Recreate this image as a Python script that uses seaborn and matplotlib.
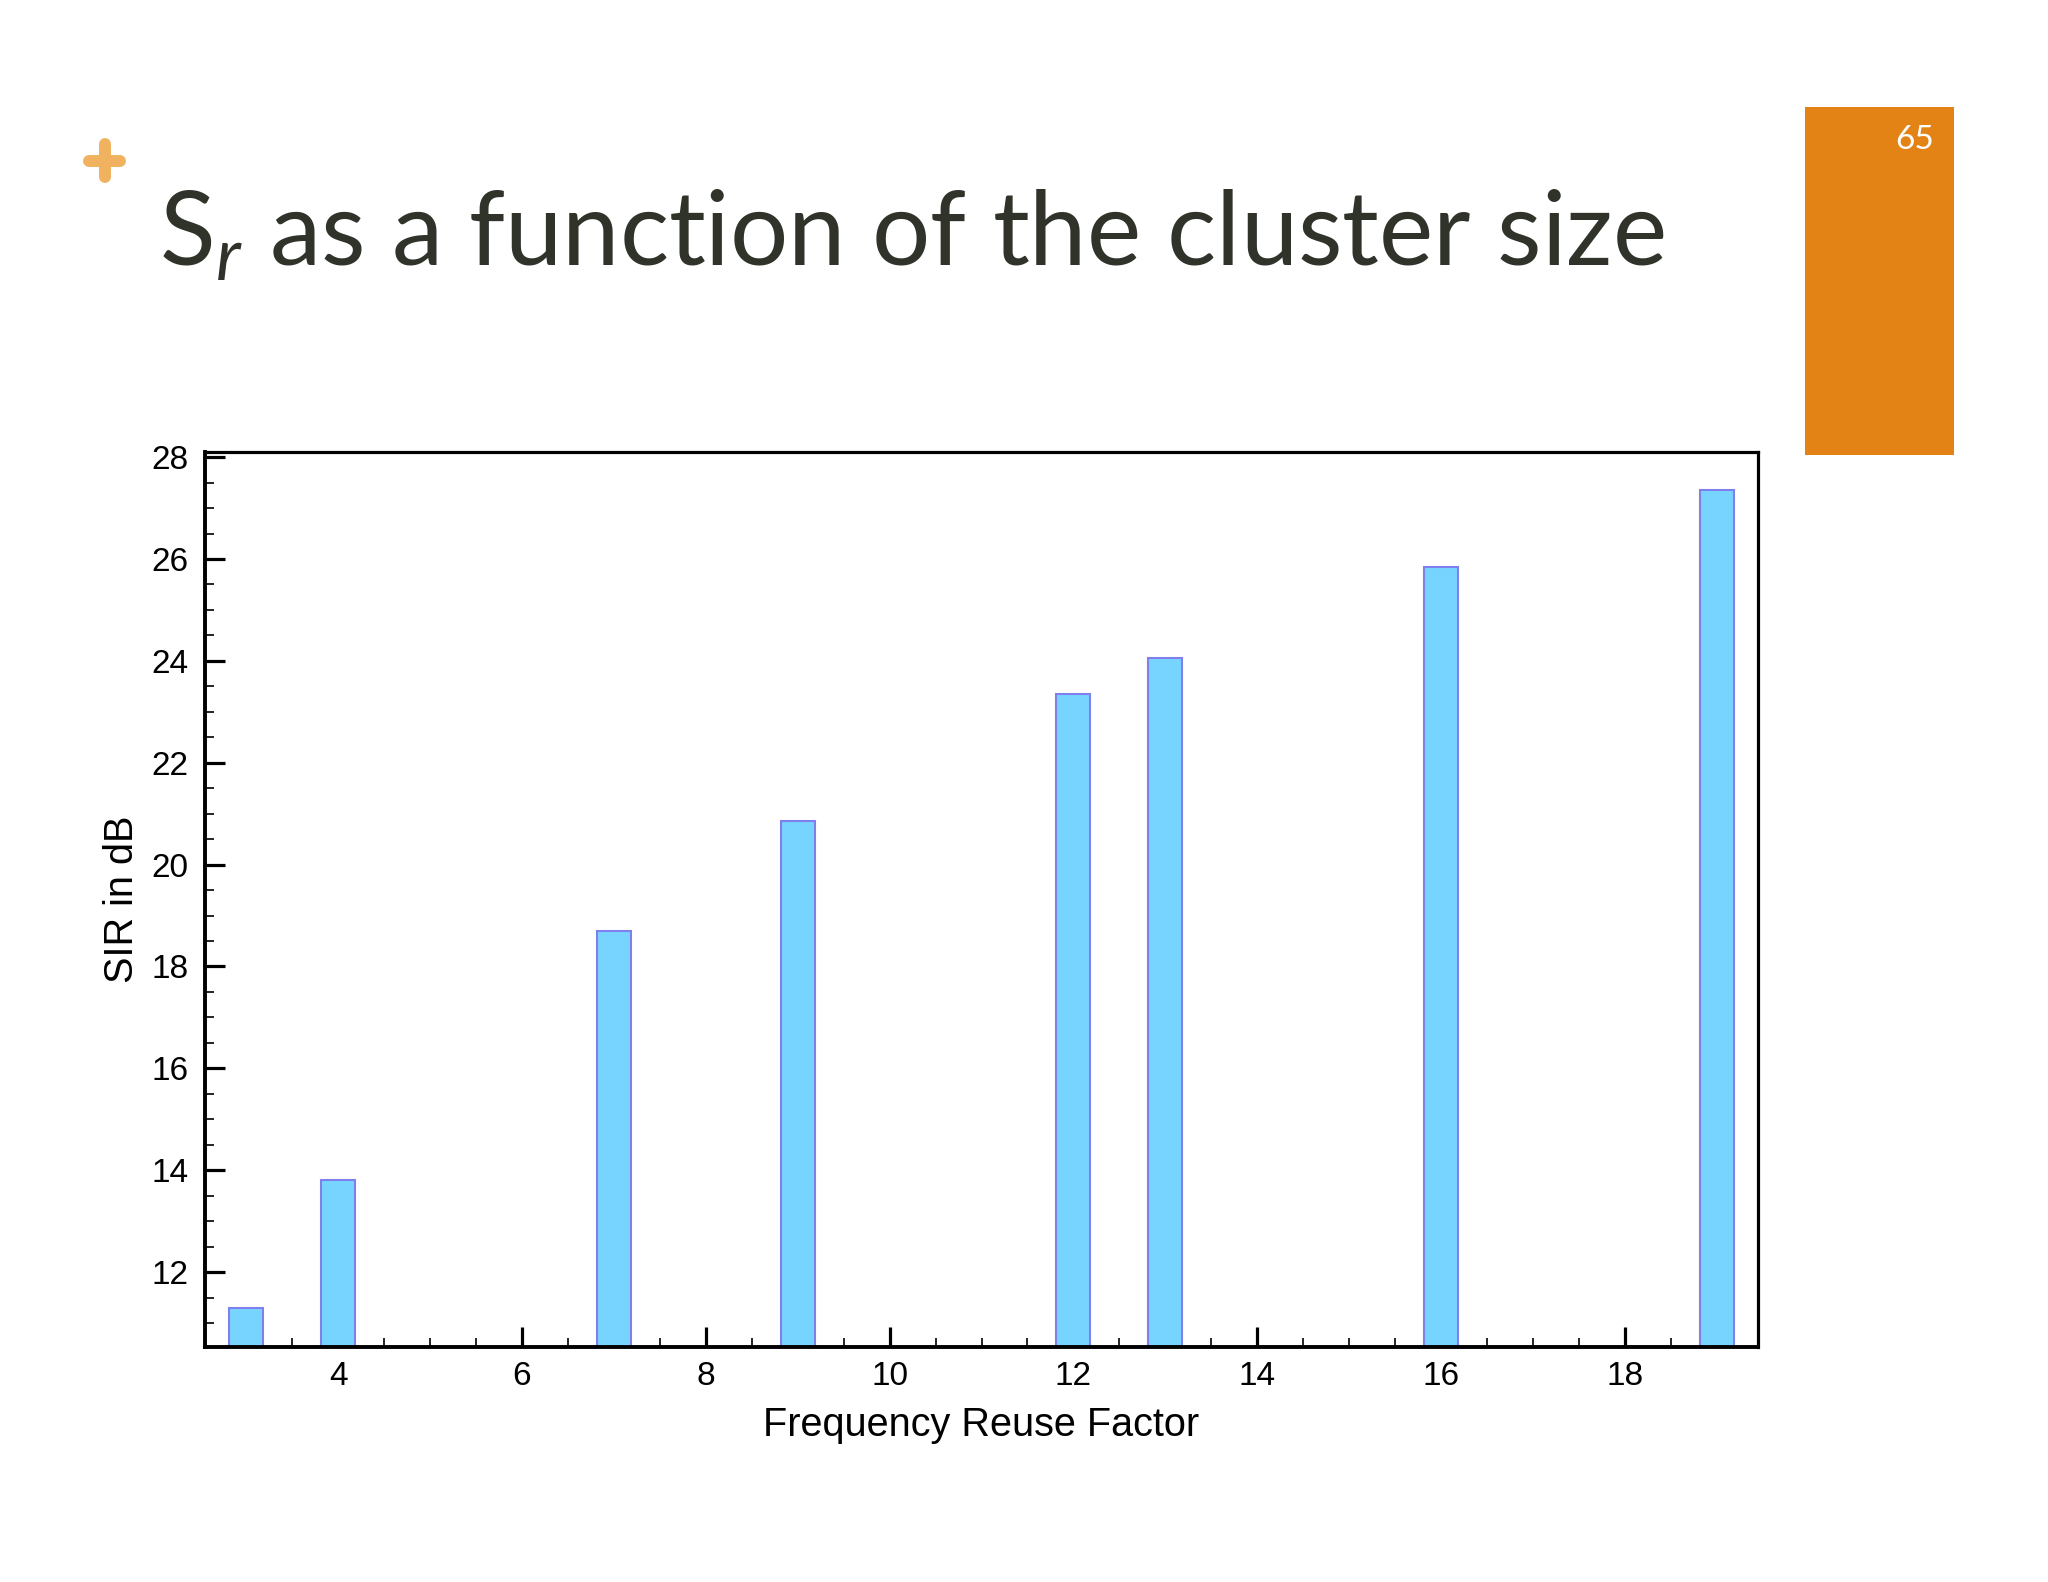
import numpy as np
import pandas as pd
import matplotlib
matplotlib.use('Agg')
import matplotlib.pyplot as plt
import seaborn as sns
from matplotlib.lines import Line2D
from matplotlib.patches import Rectangle
from matplotlib.ticker import MultipleLocator

# cluster size N and the signal-to-interference ratio
cluster_size = [3, 4, 7, 9, 12, 13, 16, 19]
sir_db = [11.3, 13.8, 18.7, 20.85, 23.35, 24.05, 25.85, 27.35]
x_ticks = [4, 6, 8, 10, 12, 14, 16, 18]
y_ticks = [12, 14, 16, 18, 20, 22, 24, 26, 28]

dados = pd.DataFrame({'N': cluster_size, 'SIR': sir_db})

sns.set_style('white')
plt.rcParams['font.family'] = ['Liberation Sans', 'DejaVu Sans']
plt.rcParams['mathtext.fontset'] = 'custom'
plt.rcParams['mathtext.rm'] = 'Lato'
plt.rcParams['mathtext.it'] = 'Lato:italic'

W, H = 2048, 1582
fig = plt.figure(figsize=(W / 100, H / 100), dpi=100)
fig.patch.set_facecolor('white')

ax = fig.add_axes([205 / W, 1 - 1347 / H, (1758 - 205) / W, (1347 - 452) / H])
sns.barplot(data=dados, x='N', y='SIR', native_scale=True, width=0.37,
            color='#77D4FE', saturation=1, edgecolor='#7F80EE', linewidth=1.5, ax=ax)
ax.set_axisbelow(True)

ax.set_xlim(2.55, 19.45)
ax.set_ylim(10.53, 28.1)
ax.set_xticks(x_ticks)
ax.set_yticks(y_ticks)
ax.xaxis.set_minor_locator(MultipleLocator(0.5))
ax.yaxis.set_minor_locator(MultipleLocator(0.5))
ax.tick_params(which='major', direction='in', length=14.5, width=2.3, labelsize=24,
               pad=10, color='black', labelcolor='black',
               bottom=True, left=True, top=False, right=False)
ax.tick_params(which='minor', direction='in', length=6.8, width=1.2, color='black',
               bottom=True, left=True, top=False, right=False)
ax.tick_params(axis='y', which='major', pad=12)

for side in ['left', 'bottom']:
    ax.spines[side].set_linewidth(2.8)
    ax.spines[side].set_color('black')
for side in ['top', 'right']:
    ax.spines[side].set_linewidth(2.3)
    ax.spines[side].set_color('black')

ax.set_xlabel('Frequency Reuse Factor', fontsize=28.5, labelpad=10, color='black')
ax.set_ylabel('SIR in dB', fontsize=28.5, labelpad=7, color='black')

# slide decorations
fig.text(159 / W, 1 - 265 / H, r'S$_{\mathit{r}}$ as a function of the cluster size',
         fontsize=74, family='Lato', color='#30332A', ha='left', va='baseline')

plus_col = '#F0B25F'
fig.add_artist(Line2D([89 / W, 120 / W], [1 - 161 / H, 1 - 161 / H], lw=8.6,
                      color=plus_col, solid_capstyle='round', transform=fig.transFigure))
fig.add_artist(Line2D([104.5 / W, 104.5 / W], [1 - 144 / H, 1 - 177 / H], lw=8.6,
                      color=plus_col, solid_capstyle='round', transform=fig.transFigure))

fig.add_artist(Rectangle((1805 / W, 1 - 455 / H), (1954 - 1805) / W, (455 - 107) / H,
                         facecolor='#E38316', edgecolor='none', transform=fig.transFigure))
fig.text(1934 / W, 1 - 140 / H, '65', fontsize=24, family='Lato', color='white',
         ha='right', va='center')

fig.savefig('out.png', dpi=100)
